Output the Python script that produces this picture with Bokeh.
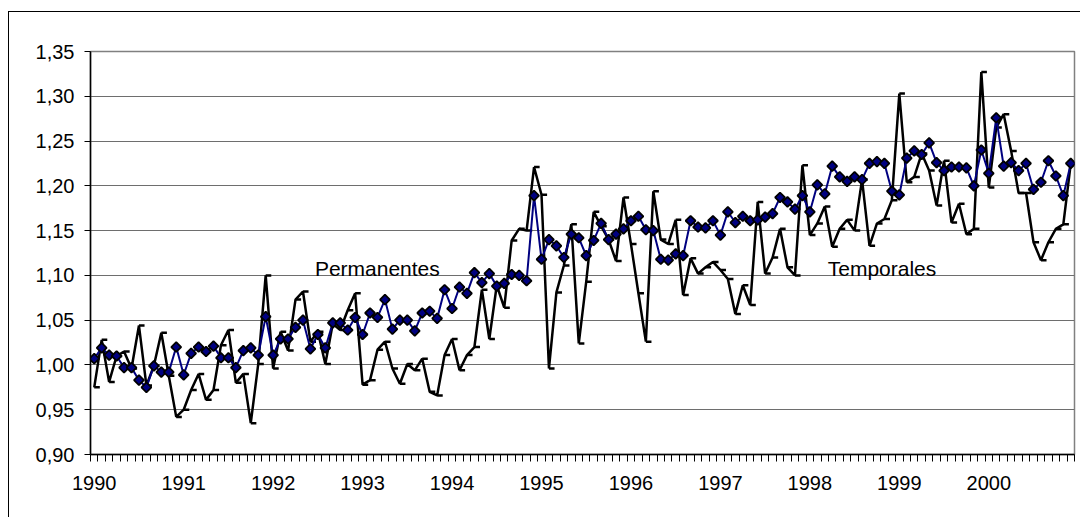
import numpy as np
from bokeh.plotting import figure
from bokeh.models import FixedTicker, CustomJSTickFormatter, Label, Range1d
from bokeh.embed import file_html
from bokeh.resources import INLINE

years = ["1990", "1991", "1992", "1993", "1994", "1995", "1996", "1997", "1998", "1999", "2000"]
y_ticks = [0.90, 0.95, 1.00, 1.05, 1.10, 1.15, 1.20, 1.25, 1.30, 1.35]

permanentes = [
    1.007, 1.019, 1.011, 1.010, 0.997, 0.997, 0.983, 0.975, 0.999, 0.992, 0.992, 1.020,
    0.989, 1.013, 1.020, 1.015, 1.021, 1.008, 1.008, 0.997, 1.016, 1.019, 1.011, 1.054,
    1.011, 1.029, 1.029, 1.042, 1.050, 1.018, 1.034, 1.019, 1.047, 1.047, 1.039, 1.053,
    1.034, 1.058, 1.053, 1.073, 1.040, 1.050, 1.050, 1.038, 1.058, 1.060, 1.052, 1.084,
    1.063, 1.087, 1.080, 1.103, 1.092, 1.102, 1.088, 1.091, 1.101, 1.100, 1.094, 1.189,
    1.118, 1.140, 1.133, 1.120, 1.146, 1.142, 1.122, 1.139, 1.158, 1.140, 1.146, 1.152,
    1.161, 1.166, 1.151, 1.150, 1.118, 1.117, 1.124, 1.122, 1.161, 1.154, 1.153, 1.161,
    1.145, 1.171, 1.159, 1.166, 1.161, 1.162, 1.165, 1.169, 1.187, 1.182, 1.174, 1.189,
    1.171, 1.201, 1.191, 1.222, 1.210, 1.205, 1.210, 1.207, 1.225, 1.227, 1.225, 1.194,
    1.190, 1.231, 1.239, 1.235, 1.248, 1.226, 1.217, 1.221, 1.221, 1.220, 1.200, 1.240,
    1.214, 1.276, 1.222, 1.226, 1.217, 1.225, 1.196, 1.204, 1.228, 1.211, 1.189, 1.225,
]

temporales = [
    0.975, 1.028, 0.981, 1.010, 1.015, 0.996, 1.044, 0.977, 0.999, 1.036, 0.988, 0.942,
    0.950, 0.972, 0.990, 0.961, 0.972, 1.022, 1.039, 0.980, 0.990, 0.935, 1.001, 1.100,
    0.996, 1.037, 1.016, 1.073, 1.082, 1.026, 1.037, 1.001, 1.046, 1.039, 1.061, 1.080,
    0.978, 0.983, 1.017, 1.026, 0.996, 0.979, 1.001, 0.994, 1.007, 0.970, 0.966, 1.011,
    1.029, 0.994, 1.011, 1.020, 1.084, 1.029, 1.089, 1.064, 1.139, 1.152, 1.150, 1.221,
    1.190, 0.996, 1.081, 1.111, 1.157, 1.024, 1.093, 1.171, 1.155, 1.140, 1.116, 1.187,
    1.135, 1.080, 1.026, 1.194, 1.140, 1.135, 1.162, 1.078, 1.119, 1.102, 1.109, 1.115,
    1.106, 1.096, 1.057, 1.089, 1.067, 1.182, 1.102, 1.120, 1.152, 1.109, 1.100, 1.223,
    1.145, 1.158, 1.177, 1.132, 1.152, 1.162, 1.150, 1.207, 1.133, 1.158, 1.163, 1.184,
    1.303, 1.204, 1.210, 1.236, 1.217, 1.178, 1.228, 1.159, 1.180, 1.146, 1.152, 1.327,
    1.198, 1.265, 1.280, 1.239, 1.192, 1.192, 1.137, 1.117, 1.137, 1.152, 1.157, 1.225,
]

series_names = ["Permanentes", "Temporales"]

n = len(permanentes)
x = list(range(n))
per_year = n // len(years)

p = figure(width=1072, height=506, output_backend="svg", toolbar_location=None,
           x_range=Range1d(-0.5, n - 0.5), y_range=Range1d(y_ticks[0], y_ticks[-1]),
           min_border_left=81, min_border_right=7, min_border_top=39, min_border_bottom=64)
p.styles = {"border-left": "1px solid black", "border-top": "1px solid black",
            "margin-left": "8px", "margin-top": "11px"}
p.background_fill_color = "white"
p.border_fill_color = "white"
p.outline_line_color = "#808080"
p.outline_line_width = 1.5

# x axis
xt = [k * per_year for k in range(len(years))]
p.xaxis.ticker = FixedTicker(ticks=xt, minor_ticks=[k - 0.5 for k in range(n + 1)])
p.xaxis.major_label_overrides = {t: yr for t, yr in zip(xt, years)}
p.xaxis.major_tick_line_color = None
p.xaxis.major_tick_out = 7
p.xaxis.major_tick_in = 0
p.xaxis.minor_tick_out = 7
p.xaxis.minor_tick_in = 0
p.xaxis.minor_tick_line_color = "black"
p.xaxis.minor_tick_line_width = 1
p.xaxis.axis_line_color = "black"
p.xaxis.axis_line_width = 1.5
p.xaxis.major_label_text_font = "Liberation Sans"
p.xaxis.major_label_text_font_size = "20px"
p.xaxis.major_label_text_color = "black"
p.xaxis.major_label_standoff = 14

# y axis
p.yaxis.ticker = FixedTicker(ticks=y_ticks, minor_ticks=[])
p.yaxis.formatter = CustomJSTickFormatter(code="return tick.toFixed(2).replace('.', ',');")
p.yaxis.major_tick_out = 6
p.yaxis.major_tick_in = 0
p.yaxis.major_tick_line_color = "black"
p.yaxis.axis_line_color = "black"
p.yaxis.axis_line_width = 1.5
p.yaxis.major_label_text_font = "Liberation Sans"
p.yaxis.major_label_text_font_size = "20px"
p.yaxis.major_label_text_color = "black"
p.yaxis.major_label_standoff = 10

p.xgrid.visible = False
p.ygrid.ticker = FixedTicker(ticks=y_ticks)
p.ygrid.grid_line_color = "#6e6e6e"
p.ygrid.grid_line_width = 1

# Temporales
p.line(x, temporales, line_color="black", line_width=2.5)
p.segment(x0=x, y0=temporales, x1=[xi + 0.75 for xi in x], y1=temporales,
          line_color="black", line_width=2.5)

# Permanentes
p.line(x, permanentes, line_color="#000080", line_width=2)
p.scatter(x, permanentes, marker="square", angle=np.pi / 4, size=7,
          fill_color="#000080", line_color="black", line_width=1.8)

p.add_layout(Label(x=29.6, y=1.108, text=series_names[0], text_font="Liberation Sans",
                   text_font_size="21px", text_color="black", text_baseline="alphabetic"))
p.add_layout(Label(x=98.4, y=1.108, text=series_names[1], text_font="Liberation Sans",
                   text_font_size="21px", text_color="black", text_baseline="alphabetic"))

open("out.html", "w").write(file_html(p, INLINE))
